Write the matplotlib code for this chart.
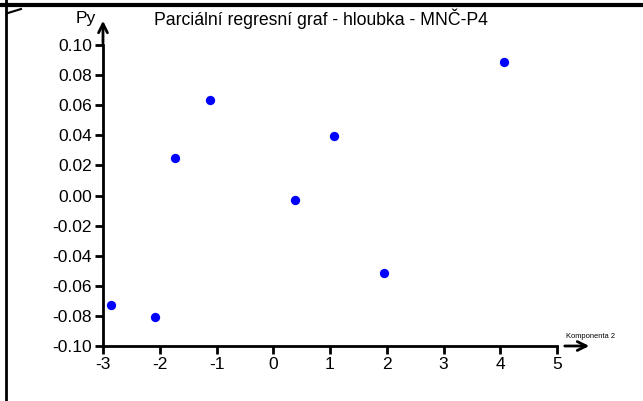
import matplotlib.pyplot as plt
from matplotlib.lines import Line2D

# hodnoty
komponenta = [-2.86, -2.08, -1.73, -1.11, 0.38, 1.07, 1.95, 4.07]
py_hodnoty = [-0.073, -0.081, 0.025, 0.0636, -0.0027, 0.0397, -0.0517, 0.0887]
x_ticks = [-3, -2, -1, 0, 1, 2, 3, 4, 5]
y_ticks = [-0.10, -0.08, -0.06, -0.04, -0.02, 0.00, 0.02, 0.04, 0.06, 0.08, 0.10]

plt.rcParams['font.family'] = ['Liberation Sans', 'DejaVu Sans']

W, H = 643, 401
fig = plt.figure(figsize=(W / 100, H / 100), dpi=100)
ax = fig.add_axes([103 / W, (H - 346) / H, (557 - 103) / W, (346 - 45) / H])

ax.scatter(komponenta, py_hodnoty, s=45, color='#0000ff', zorder=3, linewidths=0)

ax.set_xlim(-3, 5)
ax.set_ylim(-0.10, 0.10)
ax.set_xticks(x_ticks)
ax.set_xticklabels([str(v) for v in x_ticks])
ax.set_yticks(y_ticks)
ax.set_yticklabels([f'{v:.2f}' for v in y_ticks])
ax.tick_params(labelsize=12.5, width=2, length=6, direction='out', pad=2)
for s in ['top', 'right']:
    ax.spines[s].set_visible(False)
for s in ['left', 'bottom']:
    ax.spines[s].set_linewidth(2)

# šipky os
ax.annotate('', xy=(103 / W, (H - 18) / H), xytext=(103 / W, (H - 46) / H),
            xycoords='figure fraction',
            arrowprops=dict(arrowstyle='->', lw=2, color='black', mutation_scale=16))
ax.annotate('', xy=(592 / W, (H - 346) / H), xytext=(562 / W, (H - 346) / H),
            xycoords='figure fraction',
            arrowprops=dict(arrowstyle='->', lw=2, color='black', mutation_scale=16))

fig.text(96 / W, (H - 19) / H, 'Py', ha='right', va='center', fontsize=12.5)
fig.text(590 / W, (H - 337) / H, 'Komponenta 2', ha='center', va='center', fontsize=5.4)
fig.text(321 / W, (H - 19) / H, 'Parciální regresní graf - hloubka - MNČ-P4',
         ha='center', va='center', fontsize=12.7)

# rámeček nahoře a vlevo
fig.add_artist(Line2D([0, 1], [(H - 4.5) / H] * 2, color='black', lw=3))
fig.add_artist(Line2D([5.5 / W] * 2, [0, 1], color='black', lw=2))
fig.add_artist(Line2D([8 / W, 21 / W], [(H - 13) / H, (H - 9) / H], color='black', lw=1.5))

fig.savefig('out.png', dpi=100)
